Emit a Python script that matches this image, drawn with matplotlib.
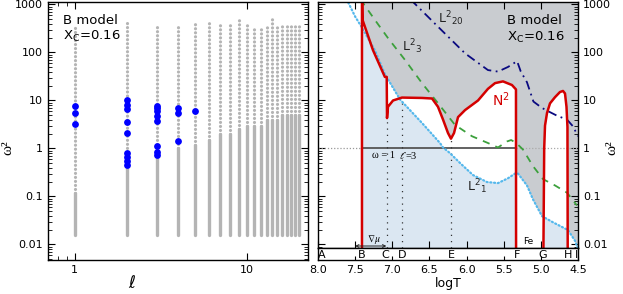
import numpy as np
import matplotlib.pyplot as plt
from matplotlib.ticker import FixedLocator, NullFormatter, FuncFormatter, LogLocator

plt.rcParams['font.family'] = ['DejaVu Sans']
plt.rcParams['mathtext.fontset'] = 'dejavusans'

# ---- left panel: mode spectrum omega^2 vs ell ----
ell = list(range(1, 21))
w2_top = [373, 412, 356, 356, 412, 412, 393, 393, 500, 412,
          356, 356, 393, 500, 393, 373, 393, 393, 373, 373]
w2_dense = [0.12, 0.4, 0.7, 1.0, 1.2, 1.5, 2.0, 2.0, 2.5, 3.0,
            3.0, 3.0, 4.0, 4.0, 4.0, 5.0, 5.0, 5.0, 5.0, 5.0]
w2_bottom = 0.016

blue_ell = [1, 1, 1,
            2, 2, 2, 2, 2, 2, 2, 2, 2,
            3, 3, 3, 3, 3, 3, 3, 3,
            4, 4, 4,
            5]
blue_w2 = [7.5, 5.4, 3.2,
           10.0, 8.1, 6.6, 3.6, 2.1, 0.80, 0.67, 0.55, 0.45,
           7.7, 6.9, 6.0, 4.8, 3.8, 1.1, 0.85, 0.72,
           6.9, 5.6, 1.45,
           6.1]

# ---- right panel: propagation diagram vs logT ----
n2_core_logT = [7.408, 7.408, 7.40, 7.26, 7.10, 7.075, 7.071, 7.058, 6.99, 6.87, 6.60,
                6.465, 6.385, 6.317, 6.25, 6.21, 6.169, 6.115, 6.021, 5.846, 5.712,
                5.617, 5.51, 5.389, 5.335, 5.333]
n2_core = [1e-4, 3000, 475, 112, 31, 31, 4.3, 7.4, 10.0, 11.5, 11.3,
           11.0, 7.4, 4.0, 2.1, 1.6, 2.1, 4.5, 6.3, 10.0, 17.5,
           23.0, 25.0, 21.0, 17.0, 1e-4]
n2_env_logT = [4.975, 4.955, 4.944, 4.917, 4.877, 4.81, 4.743, 4.702, 4.675, 4.655, 4.642, 4.636]
n2_env = [1e-4, 1.0, 3.0, 5.5, 8.7, 11.7, 15.0, 15.8, 14.0, 7.4, 2.8, 1e-4]

l1_logT = [7.62, 7.596, 7.50, 7.408, 7.233, 7.098, 6.896, 6.60, 6.358, 6.317, 6.223, 6.089,
           5.914, 5.725, 5.577, 5.442, 5.348, 5.308, 5.187, 5.106, 4.985, 4.837, 4.635,
           4.541, 4.50]
l1 = [1500, 1127, 560, 330, 110, 35, 10.5, 3.4, 1.3, 1.05, 0.8, 0.5,
      0.28, 0.2, 0.19, 0.24, 0.3, 0.3, 0.17, 0.087, 0.039, 0.029, 0.02,
      0.012, 0.008]

l3_logT = [7.43, 7.408, 7.233, 7.058, 6.829, 6.60, 6.385, 6.156, 5.927, 5.712, 5.577,
           5.456, 5.40, 5.33, 5.241, 5.106, 4.971, 4.81, 4.648, 4.514]
l3 = [1400, 1150, 475, 200, 70, 23, 8.8, 3.1, 1.8, 1.3, 1.05,
      1.4, 1.5, 1.3, 0.95, 0.43, 0.23, 0.17, 0.12, 0.065]

l20_logT = [6.76, 6.72, 6.385, 6.021, 5.712, 5.577, 5.442, 5.32, 5.27, 5.187, 5.10,
            4.985, 4.904, 4.78, 4.648, 4.568, 4.50]
l20 = [1400, 1127, 345, 96, 43, 40, 50, 66, 40, 24, 9.5,
       7.0, 6.0, 4.8, 4.0, 2.9, 1.8]

zone_logT = [7.95, 7.41, 7.10, 6.87, 6.20, 5.32, 4.97, 4.63, 4.515]
zone_names = ['A', 'B', 'C', 'D', 'E', 'F', 'G', 'H', 'I']

logT_B, logT_C, logT_D, logT_E, logT_F = 7.408, 7.071, 6.87, 6.21, 5.333
n2_C, n2_D, n2_E = 4.3, 11.5, 1.6

# ---------------------------------------------------------------
W, H = 623, 294
fig = plt.figure(figsize=(W / 100, H / 100), dpi=100)

grey = '#b4b4b4'
ax1 = fig.add_axes([48 / W, 34 / H, 260 / W, 258 / H])
for l, top, dense in zip(ell, w2_top, w2_dense):
    ax1.plot([l, l], [w2_bottom, dense], color=grey, lw=2.4, solid_capstyle='round', zorder=1)
    ax1.plot([l, l], [dense, top], color=grey, lw=2.3, ls=(0, (0.01, 1.25)),
             dash_capstyle='round', zorder=1)
ax1.scatter(blue_ell, blue_w2, s=24, color='#0000ff', zorder=3, linewidths=0)
ax1.set_xscale('log')
ax1.set_yscale('log')
ax1.set_xlim(0.7, 22.6)
ax1.set_ylim(0.00475, 1127)
ax1.xaxis.set_major_locator(FixedLocator([1, 10]))
ax1.xaxis.set_minor_locator(FixedLocator([0.7, 0.8, 0.9]))
ax1.xaxis.set_major_formatter(FuncFormatter(lambda v, p: '%g' % v))
ax1.xaxis.set_minor_formatter(NullFormatter())
ax1.yaxis.set_major_locator(FixedLocator([0.01, 0.1, 1, 10, 100, 1000]))
ax1.yaxis.set_minor_locator(LogLocator(base=10, subs=np.arange(2, 10), numticks=20))
ax1.yaxis.set_major_formatter(FuncFormatter(lambda v, p: '%g' % v))
ax1.yaxis.set_minor_formatter(NullFormatter())
ax1.tick_params(which='both', direction='in', top=True, right=True, labelsize=8)
ax1.tick_params(which='major', length=5)
ax1.tick_params(which='minor', length=3)
ax1.text(0.058, 0.93, 'B model', transform=ax1.transAxes, fontsize=9.5, va='center')
ax1.text(0.058, 0.868, r'X$_\mathrm{C}$=0.16', transform=ax1.transAxes, fontsize=9.5, va='center')

# ---- right panel ----
ax2 = fig.add_axes([318 / W, 46 / H, 260 / W, 246 / H])
ax3 = fig.add_axes([318 / W, 34 / H, 260 / W, 12 / H], sharex=ax2)
ylo, yhi = 0.00845, 1127

grid = np.linspace(4.5, 8.0, 6000)


def loginterp(xs, ys):
    xs = np.asarray(xs)[::-1]
    ys = np.log10(np.asarray(ys))[::-1]
    return 10 ** np.interp(grid, xs, ys)


L1g = loginterp(l1_logT, l1)
n2g = np.full_like(grid, 1e-5)
m1 = (grid >= n2_core_logT[-1]) & (grid <= logT_B)
n2g[m1] = 10 ** np.interp(grid[m1], np.array(n2_core_logT[2:-1])[::-1],
                          np.log10(n2_core[2:-1])[::-1])
m2 = (grid >= n2_env_logT[-1]) & (grid <= n2_env_logT[0])
n2g[m2] = loginterp(n2_env_logT, n2_env)[m2]

p_zone = grid <= logT_B
ax2.fill_between(grid, np.maximum(n2g, L1g), 1e5, where=p_zone, color='#c9ccd0', lw=0, zorder=0)
g_zone = n2g > 1e-4
ax2.fill_between(grid, 1e-6, np.minimum(n2g, L1g), where=g_zone, color='#dbe7f2', lw=0, zorder=0)

# omega^2 = 1 line
ax2.plot([8.0, logT_B], [1, 1], color='#999999', lw=0.9, ls=(0, (1, 1.5)), zorder=2)
ax2.plot([logT_B, logT_F], [1, 1], color='#555555', lw=1.3, zorder=2)
ax2.plot([logT_F, 4.5], [1, 1], color='#aaaaaa', lw=0.9, ls=(0, (1, 1.5)), zorder=2)

# dotted markers C, D, E
for x, y in [(logT_C, n2_C), (logT_D, n2_D), (logT_E, n2_E)]:
    ax2.plot([x, x], [ylo, y], color='#333333', lw=0.9, ls=(0, (1, 4)), zorder=2)

ax2.plot(l1_logT, l1, color='#55b8ec', lw=1.6, ls=(0, (0.5, 1.2)), dash_capstyle='round', zorder=3)
ax2.plot(l3_logT, l3, color='#3ca03c', lw=1.3, ls=(0, (4, 3.5)), zorder=3)
ax2.plot(l20_logT, l20, color='#0a0a80', lw=1.3, ls=(0, (5, 2.5, 1, 2.5)), zorder=3)
ax2.plot(n2_core_logT, n2_core, color='#d40000', lw=1.8, zorder=4)
ax2.plot(n2_env_logT, n2_env, color='#d40000', lw=1.8, zorder=4)

ax2.set_yscale('log')
ax2.set_xlim(8.0, 4.5)
ax2.set_ylim(ylo, yhi)
ax2.yaxis.set_major_locator(FixedLocator([0.01, 0.1, 1, 10, 100, 1000]))
ax2.yaxis.set_minor_locator(LogLocator(base=10, subs=np.arange(2, 10), numticks=20))
ax2.yaxis.set_major_formatter(FuncFormatter(lambda v, p: '%g' % v))
ax2.yaxis.set_minor_formatter(NullFormatter())
ax2.xaxis.set_major_locator(FixedLocator(np.arange(4.5, 8.01, 0.5)))
ax2.tick_params(which='both', direction='in', top=True, right=True, labelsize=8,
                labelleft=False, labelright=True, labelbottom=False)
ax2.tick_params(which='major', length=5)
ax2.tick_params(which='minor', length=3)
for s in ax2.spines.values():
    s.set_zorder(6)

ax2.text(6.38, 500, r'L$^2{}_{20}$', fontsize=9, color='#222222', va='center', zorder=5)
ax2.text(6.87, 130, r'L$^2{}_{3}$', fontsize=9, color='#222222', va='center', zorder=5)
ax2.text(5.66, 10.2, r'N$^2$', fontsize=10, color='#d40000', va='center', zorder=5)
ax2.text(6.0, 0.16, r'L$^2{}_{1}$', fontsize=9, color='#222222', va='center', zorder=5)
ax2.text(0.727, 0.925, 'B model', transform=ax2.transAxes, fontsize=9.5, va='center', zorder=5)
ax2.text(0.727, 0.855, r'X$_\mathrm{C}$=0.16', transform=ax2.transAxes, fontsize=9.5,
         va='center', zorder=5)
ax2.text(7.12, 0.70, 'ω = 1', fontsize=7.5, ha='center', va='center',
         family=['Liberation Serif', 'DejaVu Serif'], zorder=5)
ax2.text(6.78, 0.70, r'$\ell$=3', fontsize=7.5, ha='center', va='center',
         family=['Liberation Serif', 'DejaVu Serif'], math_fontfamily='stix', zorder=5)
ax2.annotate('', xy=(7.50, 0.0093), xytext=(7.08, 0.0093),
             arrowprops=dict(arrowstyle='<->', lw=0.7, color='#222222',
                             shrinkA=0, shrinkB=0, mutation_scale=5), zorder=5)
ax2.text(7.25, 0.0125, r'$\nabla\mu$', fontsize=7, ha='center', va='center',
         math_fontfamily='stix', zorder=5)
ax2.text(5.17, 0.0115, 'Fe', fontsize=6.5, ha='center', va='center', zorder=5)

# zone letter strip
ax3.set_ylim(0, 1)
for x, name in zip(zone_logT, zone_names):
    ax3.text(x, 0.45, name, fontsize=8, ha='center', va='center')
ax3.set_yticks([])
ax3.tick_params(which='both', direction='in', top=False, labelsize=8, length=3)
ax3.xaxis.set_major_formatter(FuncFormatter(lambda v, p: '%.1f' % v))

for a in (ax1, ax2, ax3):
    for s in a.spines.values():
        s.set_linewidth(1.0)

for xf in (8 / W, 612 / W):
    fig.text(xf, 1 - 148 / H, 'ω²', rotation=90, fontsize=11, ha='center', va='center',
             family=['Liberation Serif', 'DejaVu Serif'])
fig.text(132 / W, 1 - 283 / H, r'$\ell$', fontsize=12, ha='center', va='center')
fig.text(448 / W, 1 - 284 / H, 'logT', fontsize=9, ha='center', va='center')

fig.savefig('out.png', dpi=100)
